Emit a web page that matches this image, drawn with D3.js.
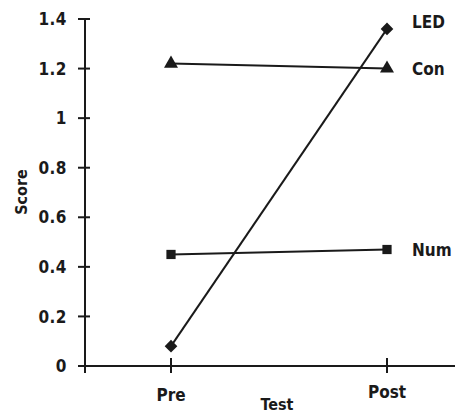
<!DOCTYPE html>
<html>
<head>
<meta charset="utf-8">
<script src="https://cdn.jsdelivr.net/npm/d3@7"></script>
<style>
  body { margin: 0; background: #fff; }
  text { font-family: "DejaVu Sans Condensed", "DejaVu Sans", sans-serif; font-weight: bold; fill: #1a1a1a; }
</style>
</head>
<body>
<div id="chart-area"></div>
<script>
var width = 457;
var height = 414;

// data
var tests = ["Pre", "Post"];
var groups = ["LED", "Con", "Num"];
var ledScores = [0.08, 1.36];
var conScores = [1.22, 1.20];
var numScores = [0.45, 0.47];
var yTicks = [0, 0.2, 0.4, 0.6, 0.8, 1, 1.2, 1.4];

// diamond drawn as a square turned 45 degrees
var series = [
  {name: "LED", values: ledScores, shape: d3.symbolSquare, size: 80, rot: 45},
  {name: "Con", values: conScores, shape: d3.symbolTriangle, size: 85, rot: 0},
  {name: "Num", values: numScores, shape: d3.symbolSquare, size: 85, rot: 0}
];

var svg = d3.select("#chart-area").append("svg")
  .attr("width", width)
  .attr("height", height);

var x = d3.scalePoint().domain(tests).range([171, 387]);
var y = d3.scaleLinear().domain([0, 1.4]).range([366, 19]);
var ink = "#1a1a1a";

// y axis
var yAxis = svg.append("g")
  .attr("transform", "translate(85,0)");
yAxis.append("line")
  .attr("x1", 0).attr("x2", 0)
  .attr("y1", y(1.4)).attr("y2", y(0) + 7)
  .attr("stroke", ink).attr("stroke-width", 2);
yAxis.selectAll(".tick").data(yTicks).enter().append("line")
  .attr("x1", -7).attr("x2", 5)
  .attr("y1", function(d) { return y(d); })
  .attr("y2", function(d) { return y(d); })
  .attr("stroke", ink).attr("stroke-width", 2);
yAxis.selectAll(".lbl").data(yTicks).enter().append("text")
  .attr("x", -18)
  .attr("y", function(d) { return y(d); })
  .attr("dy", "0.36em")
  .attr("text-anchor", "end")
  .attr("font-size", "17px")
  .attr("letter-spacing", "0.5px")
  .text(function(d) { return d; });

// x axis
var xAxis = svg.append("g");
xAxis.append("line")
  .attr("x1", 78).attr("x2", 455)
  .attr("y1", y(0)).attr("y2", y(0))
  .attr("stroke", ink).attr("stroke-width", 2);
xAxis.selectAll(".tick").data(tests).enter().append("line")
  .attr("x1", function(d) { return x(d); })
  .attr("x2", function(d) { return x(d); })
  .attr("y1", y(0) - 8).attr("y2", y(0) + 7)
  .attr("stroke", ink).attr("stroke-width", 2);
xAxis.selectAll(".lbl").data(tests).enter().append("text")
  .attr("x", function(d) { return x(d); })
  .attr("y", function(d, i) { return i == 0 ? 401 : 398; })
  .attr("text-anchor", "middle")
  .attr("font-size", "17px")
  .text(function(d) { return d; });

svg.append("text")
  .attr("x", 277)
  .attr("y", 410)
  .attr("text-anchor", "middle")
  .attr("font-size", "16px")
  .text("Test");

svg.append("text")
  .attr("transform", "translate(27,192) rotate(-90)")
  .attr("text-anchor", "middle")
  .attr("font-size", "16px")
  .text("Score");

// lines + markers
var line = d3.line()
  .x(function(d, i) { return x(tests[i]); })
  .y(function(d) { return y(d); });

var sg = svg.selectAll(".series").data(series).enter().append("g");
sg.append("path")
  .attr("d", function(d) { return line(d.values); })
  .attr("fill", "none")
  .attr("stroke", ink)
  .attr("stroke-width", 2);
sg.each(function(s) {
  d3.select(this).selectAll("path.m").data(s.values).enter().append("path")
    .attr("class", "m")
    .attr("d", d3.symbol().type(s.shape).size(s.size))
    .attr("transform", function(d, i) { return "translate(" + x(tests[i]) + "," + y(d) + ") rotate(" + s.rot + ")"; })
    .attr("fill", ink);
});
sg.append("text")
  .attr("x", 412)
  .attr("y", function(d) { return d.name == "LED" ? y(1.38) - 2 : y(d.values[1]); })
  .attr("dy", "0.36em")
  .attr("font-size", "17px")
  .text(function(d) { return d.name; });
</script>
</body>
</html>
